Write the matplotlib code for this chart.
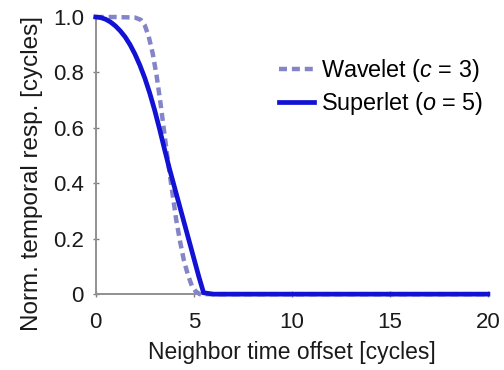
import matplotlib
matplotlib.use("Agg")
import matplotlib.pyplot as plt

plt.rcParams['font.family'] = ['Liberation Sans', 'DejaVu Sans']
plt.rcParams['mathtext.fontset'] = 'custom'
plt.rcParams['mathtext.it'] = 'Liberation Sans:italic'
plt.rcParams['mathtext.rm'] = 'Liberation Sans'

# Temporal response vs neighbor offset (cycles)
wavelet_x = [0, 1.0, 2.0, 2.3, 2.5, 2.7, 2.9, 3.1, 3.3, 3.5, 3.7, 3.9, 4.1, 4.3, 4.5, 4.7, 4.9, 5.1, 5.3, 6, 10, 15, 20]
wavelet_y = [1.0, 1.0, 0.998, 0.99, 0.97, 0.93, 0.87, 0.79, 0.69, 0.58, 0.47, 0.37, 0.27, 0.19, 0.12, 0.07, 0.03, 0.01, 0.0, 0.0, 0.0, 0.0, 0.0]

superlet_x = [0, 0.25, 0.5, 0.75, 1.0, 1.25, 1.5, 1.75, 2.0, 2.25, 2.5, 2.75, 3.0, 3.25, 3.5, 3.75, 4.0, 4.25, 4.5, 4.75, 5.0, 5.25, 5.5, 6, 10, 15, 20]
superlet_y = [1.0, 0.998, 0.992, 0.982, 0.968, 0.95, 0.928, 0.9, 0.866, 0.826, 0.78, 0.726, 0.665, 0.597, 0.525, 0.455, 0.39, 0.325, 0.26, 0.195, 0.13, 0.065, 0.005, 0.0, 0.0, 0.0, 0.0]

x_ticks = [0, 5, 10, 15, 20]
y_ticks = [0, 0.2, 0.4, 0.6, 0.8, 1.0]
y_tick_labels = ['0', '0.2', '0.4', '0.6', '0.8', '1.0']

fig = plt.figure(figsize=(5.04, 3.70), dpi=100)
ax = fig.add_axes([0.19, 0.205, 0.778, 0.749])

ax.plot(wavelet_x, wavelet_y, color='#8484c8', lw=3.2, ls=(0, (1.8, 1.1)),
        label='Wavelet ($c$ = 3)', clip_on=False, zorder=3)
ax.plot(superlet_x, superlet_y, color='#1212d4', lw=3.4,
        label='Superlet ($o$ = 5)', clip_on=False, zorder=4)

ax.set_xlim(0, 20)
ax.set_ylim(0, 1)
ax.set_xticks(x_ticks)
ax.set_yticks(y_ticks)
ax.set_yticklabels(y_tick_labels)
ax.tick_params(colors='#808080', labelcolor='#1a1a1a', labelsize=16,
               length=5, width=1, direction='inout')
ax.tick_params(axis='x', pad=10)
ax.tick_params(axis='y', pad=6)

for side in ('top', 'right'):
    ax.spines[side].set_visible(False)
for side in ('left', 'bottom'):
    ax.spines[side].set_color('#909090')
    ax.spines[side].set_linewidth(1.4)

ax.set_xlabel('Neighbor time offset [cycles]', fontsize=16.5, color='#1a1a1a', labelpad=6)
ax.set_ylabel('Norm. temporal resp. [cycles]', fontsize=17.5, color='#1a1a1a')
ax.yaxis.set_label_coords(-0.135, 0.437)

leg = ax.legend(loc='upper right', bbox_to_anchor=(1.025, 0.905), frameon=False,
                fontsize=16.8, handlelength=1.5, handletextpad=0.3, labelspacing=0.25,
                borderaxespad=0.2)

fig.savefig('out.png', dpi=100)
